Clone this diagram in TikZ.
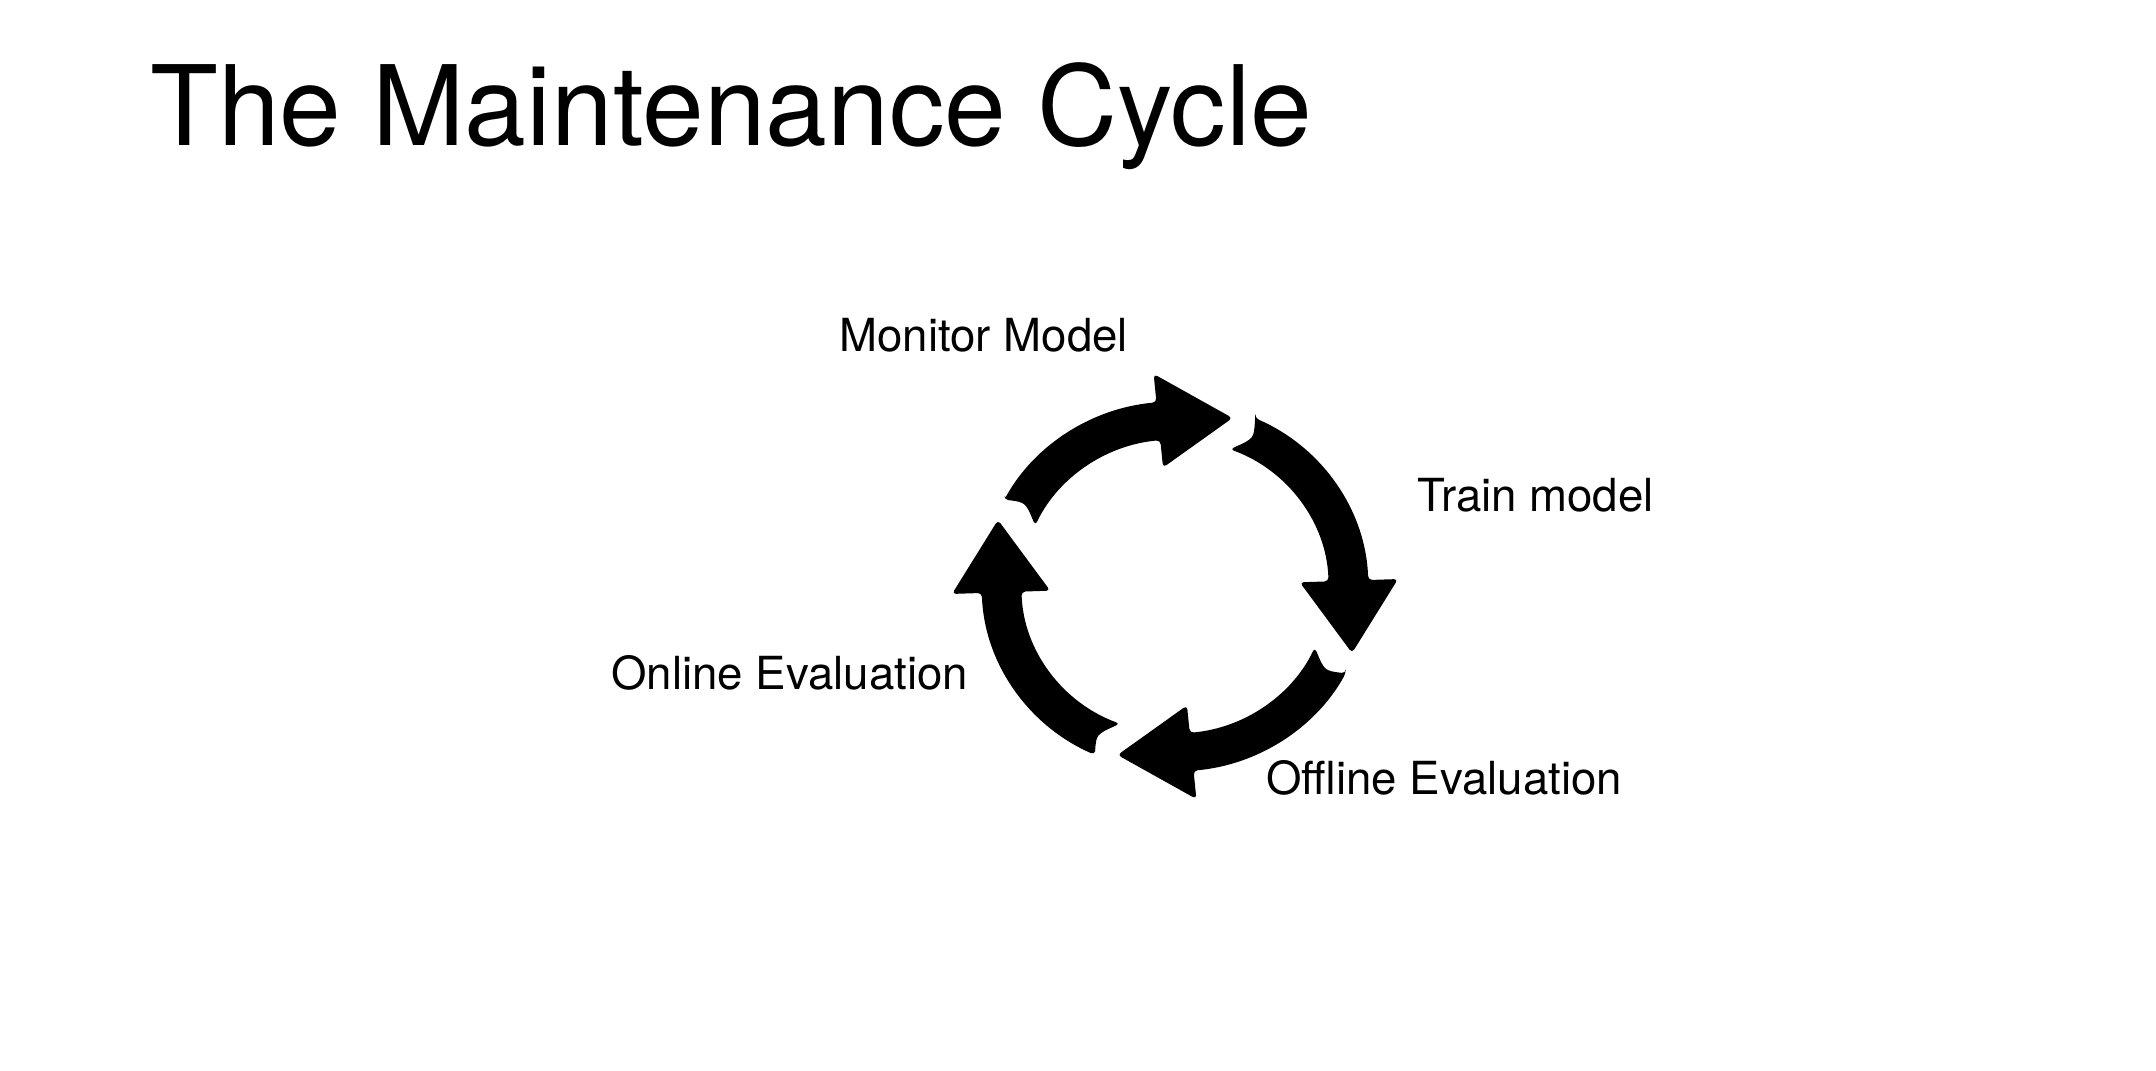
\documentclass[tikz,border=0pt]{standalone}
\usepackage{fontspec}
\setmainfont{TeX Gyre Heros}
\begin{document}
\begin{tikzpicture}[x=0.5pt,y=0.5pt,
  label text/.style={inner sep=0pt, anchor=base west, font=\fontsize{22.8}{27}\selectfont},
  cycle arrow/.style={fill=black, rounded corners=2pt}]
\useasboundingbox[fill=white] (0,0) rectangle (2156,1070);

% heading
\node[inner sep=0pt, anchor=base west, font=\fontsize{55.5}{62}\selectfont] (title) at (150,924) {The Maintenance Cycle};

% stage labels
\node[label text] (monitor) at (839,718) {Monitor Model};
\node[label text] (train)   at (1417,558) {Train model};
\node[label text] (online)  at (611,380) {Online Evaluation};
\node[label text] (offline) at (1266,275) {Offline Evaluation};

% four curved arrows forming the cycle (clockwise)
% per arrow: rotation / angle of the head's back edge / tail angle / tip x / tip y
\begin{scope}[shift={(1175,483.5)}, xscale=1.045]
  \foreach \r/\b/\t/\tx/\ty in {0/95.5/152/55/168.5, -90/92/155.5/66.5/169.4,
                                -180/95.5/152/55/168.5, -270/92/155.5/66.5/169.4} {
    \pgfmathsetmacro{\ti}{\t+3.5}
    \pgfmathsetmacro{\tc}{\t-2.5}
    \begin{scope}[rotate=\r]
      \fill[cycle arrow] (\t:185) arc[start angle=\t, end angle=\b, radius=185]
        -- (\b:213.5) -- (\tx,\ty) -- (\b:119.5) -- (\b:147)
        arc[start angle=\b, end angle=\ti, radius=147]
        .. controls (\tc:166) .. (\t:185) -- cycle;
    \end{scope}
  }
\end{scope}
\end{tikzpicture}
\end{document}
